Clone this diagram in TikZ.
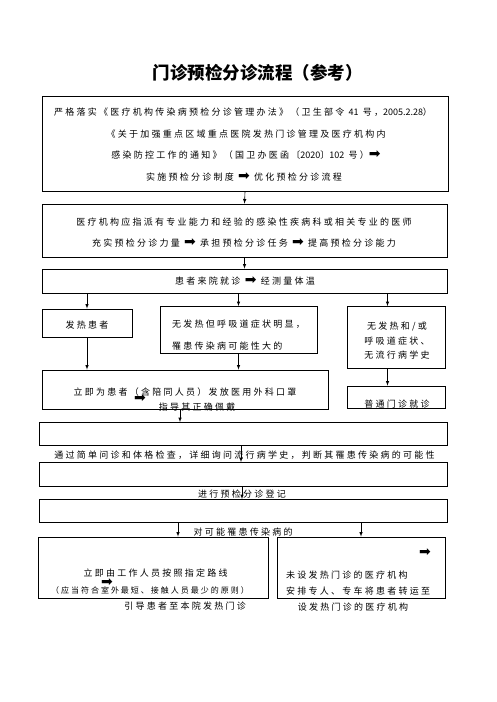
\documentclass[tikz,border=0pt]{standalone}
\usepackage{fontspec}
\setmainfont{Noto Sans CJK SC}
\newfontfamily\cjk[LetterSpace=25]{Noto Sans CJK SC}
\newfontfamily\sym{DejaVu Sans}
\usetikzlibrary{arrows}
\tikzset{box/.style={rectangle,draw=black,line width=0.8pt,inner sep=0pt},txt/.style={inner sep=0pt,font=\cjk\fontsize{9}{11}\selectfont},small/.style={inner sep=0pt,font=\cjk\fontsize{8}{10}\selectfont},arrowout/.style={->,>=latex,semithick}}
\newcommand{\fat}{{\sym\fontsize{14}{14}\selectfont\char"27A1}}
\newcommand{\num}[1]{{\rmfamily #1}}

\begin{document}
\begin{tikzpicture}[x=1pt,y=-1pt]
\useasboundingbox (0,0) rectangle (496,702);

\node (title) at (257.5,73) [inner sep=0pt,font=\bfseries\fontsize{17.5}{20}\selectfont] {门诊预检分诊流程（参考）};

% rules and regulations
\node (b1) at (245,144) [box,minimum width=406pt,minimum height=95pt] {};
\node (b1a) at (243,112) [txt] {严格落实《医疗机构传染病预检分诊管理办法》（卫生部令 \num{41} 号，\num{2005.2.28}）};
\node (b1b) at (246,134) [txt] {《关于加强重点区域重点医院发热门诊管理及医疗机构内};
\node (b1c) at (246,155) [txt] {感染防控工作的通知》（国卫办医函〔\num{2020}〕\num{102} 号）\fat};
\node (b1d) at (244,177) [txt] {实施预检分诊制度 \fat{} 优化预检分诊流程};

\node (b2) at (244.5,230.5) [box,minimum width=405pt,minimum height=53pt] {};
\node (b2a) at (244,222) [txt] {医疗机构应指派有专业能力和经验的感染性疾病科或相关专业的医师};
\node (b2b) at (244,243) [txt] {充实预检分诊力量 \fat{} 承担预检分诊任务 \fat{} 提高预检分诊能力};

\node (b3) at (244.5,281) [box,minimum width=405pt,minimum height=24pt] {};
\node (b3a) at (245,281) [txt] {患者来院就诊 \fat{} 经测量体温};

% three kinds of patients
\node (fever) at (87,323) [box,minimum width=90pt,minimum height=28pt] {};
\node (fevera) at (87,325) [txt] {发热患者};
\node (resp) at (238.5,330) [box,minimum width=157pt,minimum height=47pt] {};
\node (respa) at (172,324) [txt,anchor=west] {无发热但呼吸道症状明显，};
\node (respb) at (172,346) [txt,anchor=west] {罹患传染病可能性大的};
\node (none) at (396.5,337.5) [box,minimum width=98pt,minimum height=62pt] {};
\node (nonea) at (397,327) [txt] {无发热和/或};
\node (noneb) at (397,341) [txt] {呼吸道症状、};
\node (nonec) at (397,355) [txt] {无流行病学史};

\node (mask) at (185,389.5) [box,minimum width=286pt,minimum height=39pt] {};
\node (maska) at (185,392) [txt] {立即为患者（含陪同人员）发放医用外科口罩};
\node (maskb) at (197,407) [txt] {指导其正确佩戴};
\node (maskc) at (140,399) [inner sep=0pt] {\fat};
\node (clinic) at (396.5,397) [box,minimum width=98pt,minimum height=22pt] {};
\node (clinica) at (397,404.5) [txt] {普通门诊就诊};

% inquiry and registration
\node (b4) at (243,434) [box,minimum width=408pt,minimum height=23pt] {};
\node (b4a) at (244.5,455) [txt] {通过简单问诊和体格检查，详细询问流行病学史，判断其罹患传染病的可能性};
\node (b5) at (243,474.5) [box,minimum width=408pt,minimum height=24pt] {};
\node (b5a) at (242,494) [txt] {进行预检分诊登记};
\node (b6) at (243,511) [box,minimum width=408pt,minimum height=23pt] {};
\node (b6a) at (243,532) [txt] {对可能罹患传染病的};

% transfer
\node (own) at (153,567.5) [box,minimum width=230pt,minimum height=61pt] {};
\node (owna) at (155.5,573) [txt] {立即由工作人员按照指定路线};
\node (ownb) at (150,590) [small] {（应当符合室外最短、接触人员最少的原则）};
\node (ownc) at (107,583) [inner sep=0pt] {\fat};
\node (ownd) at (185,606) [txt] {引导患者至本院发热门诊};
\node (other) at (361,567.5) [box,minimum width=168pt,minimum height=61pt] {};
\node (othera) at (286,575) [txt,anchor=west] {未设发热门诊的医疗机构};
\node (otherb) at (286,591) [txt,anchor=west] {安排专人、专车将患者转运至};
\node (otherc) at (353,607) [txt] {设发热门诊的医疗机构};
\node (otherd) at (425,553) [inner sep=0pt] {\fat};

\draw[arrowout] (b1.south) -- (b2.north);
\draw[arrowout] (b2.south) -- (b3.north);
\draw[arrowout] (b3.south -| fever.north) -- (fever.north);
\draw[arrowout] (b3.south -| resp.north) -- (resp.north);
\draw[arrowout] ([xshift=-9pt]b3.south -| none.north) -- ([xshift=-9pt]none.north);
\draw[arrowout] (fever.south) -- (fever.south |- mask.north);
\draw[arrowout] (resp.south) -- (resp.south |- mask.north);
\draw[arrowout] ([xshift=-9pt]none.south) -- ([xshift=-9pt]clinic.north);
\draw[arrowout] ([xshift=-5pt]mask.south) -- ([xshift=-5pt]mask.south |- b4.north);
\draw[arrowout] ([xshift=-2pt]b4.south) -- ([xshift=-2pt]b5.north);
\draw[arrowout] ([xshift=-1pt]b5.south) -- ([xshift=-1pt]b6.north);
\draw[arrowout] ([xshift=25pt]b6.south -| own.north) -- ([xshift=25pt]own.north);
\draw[arrowout] (b6.south -| other.north) -- (other.north);

\end{tikzpicture}
\end{document}
